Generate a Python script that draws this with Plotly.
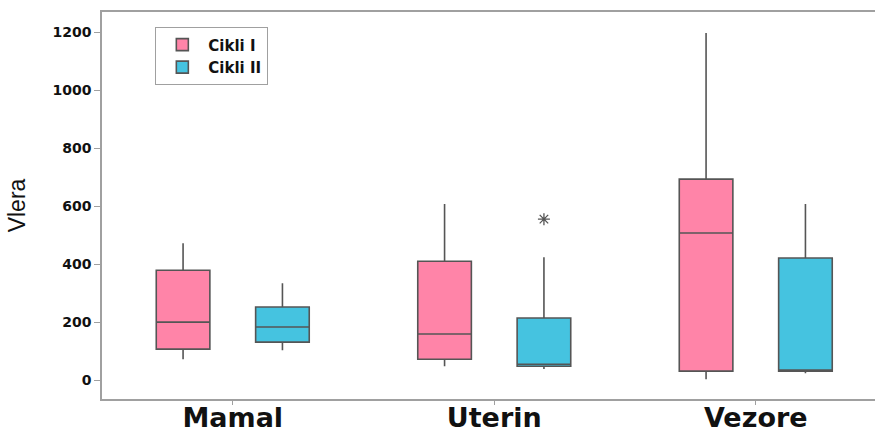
import plotly.graph_objects as go

categories = ["Mamal", "Uterin", "Vezore"]

# Cikli I stats
c1_low = [72, 48, 3]
c1_q1 = [107, 72, 31]
c1_med = [200, 159, 507]
c1_q3 = [379, 410, 693]
c1_high = [472, 607, 1197]

# Cikli II stats
c2_low = [103, 38, 24]
c2_q1 = [131, 48, 31]
c2_med = [183, 55, 34]
c2_q3 = [252, 214, 421]
c2_high = [334, 424, 607]

# outliers (category index, value) for Cikli II
c2_out_cat = [1]
c2_out_val = [555]

y_ticks = [0, 200, 400, 600, 800, 1000, 1200]

pink = "#FF84A8"
cyan = "#45C3E0"
edge = "#555555"

offset = 0.19
bw = 0.205
idx = list(range(len(categories)))

fig = go.Figure()
fig.add_trace(go.Box(
    name="Cikli I", x=[i - offset for i in idx],
    lowerfence=c1_low, q1=c1_q1, median=c1_med, q3=c1_q3, upperfence=c1_high,
    width=bw, fillcolor=pink, line=dict(color=edge, width=1.6),
    whiskerwidth=0, boxpoints=False, hoverinfo="skip",
))
fig.add_trace(go.Box(
    name="Cikli II", x=[i + offset for i in idx],
    lowerfence=c2_low, q1=c2_q1, median=c2_med, q3=c2_q3, upperfence=c2_high,
    width=bw, fillcolor=cyan, line=dict(color=edge, width=1.6),
    whiskerwidth=0, boxpoints=False, hoverinfo="skip",
))
fig.add_trace(go.Scatter(
    x=[c + offset for c in c2_out_cat], y=c2_out_val, mode="markers",
    marker=dict(symbol="asterisk-open", size=10, color=edge, line=dict(color=edge, width=1.3)),
    showlegend=False, hoverinfo="skip",
))

fig.update_layout(
    width=875, height=428,
    margin=dict(l=102, r=0, t=12, b=29, autoexpand=False),
    paper_bgcolor="white", plot_bgcolor="white",
    showlegend=True,
    legend=dict(
        x=0.0686, y=0.961, xanchor="left", yanchor="top",
        bgcolor="white", bordercolor="#A0A0A0", borderwidth=1.3,
        font=dict(family="DejaVu Sans", size=15, color="#111111", weight="bold"),
        tracegroupgap=0, itemwidth=42,
    ),
    xaxis=dict(
        range=[-0.5, 2.456],
        tickvals=idx, ticktext=categories,
        showline=True, linecolor="#A0A0A0", linewidth=1.5, mirror=True,
        ticks="outside", ticklen=4, tickcolor="#A0A0A0",
        ticklabelstandoff=-10,
        showgrid=False, zeroline=False, automargin=False,
        tickfont=dict(family="DejaVu Sans", size=27, color="#111111", weight="bold"),
    ),
    yaxis=dict(
        range=[-65, 1269],
        tickvals=y_ticks,
        showline=True, linecolor="#A0A0A0", linewidth=1.5, mirror=False,
        ticks="outside", ticklen=6, tickcolor="#A0A0A0",
        showgrid=False, zeroline=False, automargin=False,
        tickfont=dict(family="DejaVu Sans", size=14, color="#111111", weight="bold"),
        title=dict(text="Vlera", standoff=20,
                   font=dict(family="Liberation Sans Narrow, Liberation Sans", size=23, color="#111111")),
    ),
)

fig.write_html(
    "out.html",
    config={"displayModeBar": False},
    post_script="document.body.style.margin='0px';document.body.style.overflow='hidden';",
)
